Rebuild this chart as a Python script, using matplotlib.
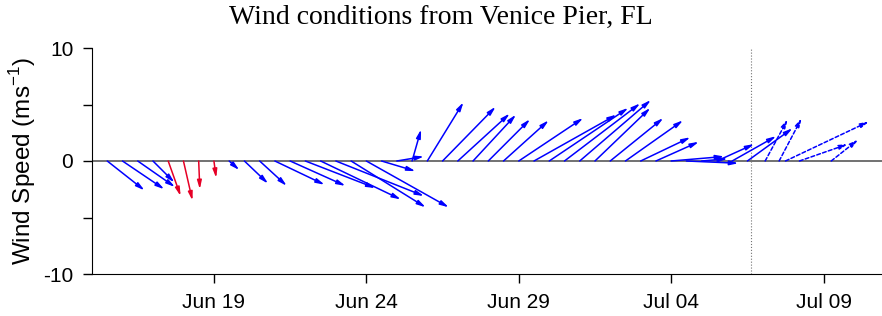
import numpy as np
import pandas as pd
import matplotlib
matplotlib.use('Agg')
import matplotlib.pyplot as plt
import matplotlib.dates as mdates
from matplotlib.transforms import offset_copy

# wind vectors (m/s), measured every 12 h from Jun 15 12:00
u_obs = [3.3, 3.7, 3.3, 1.9, 1.1, 0.8, 0.1, 0.2, 0.9, 2.1, 2.4, 4.4, 4.9, 6.2, 7.1,
         7.8, 6.6, 7.3, 3.0, 2.4, 0.8, 3.2, 4.7, 4.6, 3.8, 3.7, 4.0, 5.7, 7.3, 7.0,
         6.7, 6.3, 4.9, 4.7, 5.1, 4.4, 3.8, 4.7, 4.6, 2.3, 3.3, 3.9, 4.0]
v_obs = [-2.6, -2.5, -2.3, -1.9, -3.1, -3.5, -2.5, -1.5, -0.8, -2.0, -2.2, -2.1, -2.2, -2.4, -3.4,
         -3.1, -4.1, -4.1, -0.9, 0.4, 2.8, 5.2, 4.8, 4.2, 4.1, 3.7, 3.6, 3.8, 4.1, 4.7,
         5.1, 5.4, 4.7, 3.8, 3.6, 2.1, 1.7, 0.4, -0.2, 0.2, 1.5, 2.2, 2.9]
red_idx = [4, 5, 6, 7]
t_obs = pd.date_range('2015-06-15 12:00', periods=len(u_obs), freq='12h')

# forecast part (dashed)
t_fc = pd.to_datetime(['2015-07-07 02:00', '2015-07-07 13:00', '2015-07-07 18:00',
                       '2015-07-08 05:00', '2015-07-09 06:00'])
u_fc = [2.0, 2.0, 7.4, 4.3, 2.4]
v_fc = [3.7, 3.8, 3.5, 1.5, 1.9]

t_now = pd.Timestamp('2015-07-06 15:00')

plt.rcParams['font.family'] = ['Liberation Sans', 'DejaVu Sans']

fig = plt.figure(figsize=(8.82, 3.16), dpi=100)
ax = fig.add_axes([92/882, 42/316, 1 - 92/882, 226/316])
ax.set_xlim(mdates.date2num(pd.Timestamp('2015-06-15 00:00')),
            mdates.date2num(pd.Timestamp('2015-07-10 22:00')))
ax.set_ylim(-10, 10)

pix = 226 / 20.0  # pixels per m/s

ax.axhline(0, color='0.35', lw=1.2, zorder=1)
ax.axvline(mdates.date2num(t_now), color='0.45', lw=0.8, ls=':', zorder=1)

def stick(t, u, v, col, ls):
    x0 = mdates.date2num(t)
    tr = offset_copy(ax.transData, x=u*pix, y=v*pix, units='dots')
    ax.annotate('', xy=(x0, 0), xycoords=tr, xytext=(x0, 0), textcoords='data',
                arrowprops=dict(arrowstyle='-|>,head_length=0.5,head_width=0.13',
                                mutation_scale=10, color=col, lw=1.1, ls=ls,
                                shrinkA=0, shrinkB=0))

for i in range(len(u_obs)):
    c = (0.9, 0.0, 0.15) if i in red_idx else (0.0, 0.0, 1.0)
    stick(t_obs[i], u_obs[i], v_obs[i], c, '-')

for i in range(len(u_fc)):
    stick(t_fc[i], u_fc[i], v_fc[i], (0.0, 0.0, 1.0), (0, (2.5, 1.5)))

ax.xaxis.set_major_locator(mdates.DayLocator(bymonthday=[4, 9, 19, 24, 29]))
ax.xaxis.set_major_formatter(mdates.DateFormatter('%b %d'))
ax.set_yticks([-10, -5, 0, 5, 10])
ax.set_yticklabels(['-10', '', '0', '', '10'])
ax.tick_params(axis='both', labelsize=15, length=6.5, width=1, direction='out')
ax.tick_params(axis='y', pad=7)
ax.tick_params(axis='x', pad=7)
ax.spines['top'].set_visible(False)
ax.spines['right'].set_visible(False)

ax.set_ylabel('Wind Speed (ms$^{\\mathregular{-1}}$)', fontsize=17.5)
ax.yaxis.set_label_coords(-0.068, 0.5)
fig.text(0.5, 0.946, 'Wind conditions from Venice Pier, FL', ha='center', va='center',
         fontsize=20, family='Liberation Serif')

fig.savefig('out.png', dpi=100)
